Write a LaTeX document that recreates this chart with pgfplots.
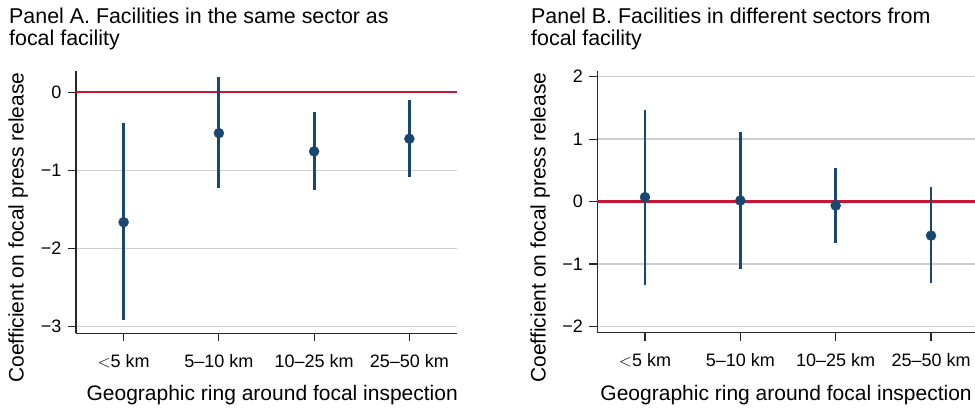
\documentclass[border=0pt]{standalone}
\usepackage{pgfplots}
\pgfplotsset{compat=1.18}
\usepackage{pgfplotstable}
\usepackage{fontspec}
\setmainfont{Liberation Sans}
\definecolor{navy}{RGB}{26,71,111}
\definecolor{zred}{RGB}{200,22,52}
\definecolor{gridc}{RGB}{205,205,205}

\pgfplotstableread{
x y lo hi
1 -1.667 -2.92 -0.40
2 -0.526 -1.235 0.19
3 -0.760 -1.256 -0.26
4 -0.598 -1.086 -0.10
}\panelA

\pgfplotstableread{
x y lo hi
1 0.070 -1.335 1.47
2 0.016 -1.078 1.106
3 -0.064 -0.657 0.54
4 -0.545 -1.308 0.23
}\panelB

\pgfplotsset{
  coefstyle/.style={
    scale only axis,
    xmin=0.5, xmax=4.5,
    axis x line=bottom, axis y line=left,
    axis line style={-, line width=1.1bp, black!85},
    tick align=outside,
    major tick length=8bp,
    tick style={line width=1.1bp, black!85},
    xtick={1,2,3,4},
    xticklabels={{$<$5 km},{5–10 km},{10–25 km},{25–50 km}},
    ymajorgrids,
    grid style={line width=1.2bp, gridc},
    ticklabel style={font=\fontsize{18bp}{20bp}\selectfont},
    xticklabel style={anchor=base, yshift=-26bp},
    yticklabel style={anchor=east, xshift=-3bp},
    label style={font=\fontsize{21bp}{24bp}\selectfont},
    xlabel={Geographic ring around focal inspection},
    ylabel={Coefficient on focal press release},
    clip=false,
  },
}

\begin{document}
\begin{tikzpicture}[x=1bp,y=1bp]
\useasboundingbox (0,0) rectangle (975,410);

\node[anchor=base west, inner sep=0, font=\fontsize{21.4bp}{24bp}\selectfont] at (9,387) {Panel A. Facilities in the same sector as};
\node[anchor=base west, inner sep=0, font=\fontsize{21.4bp}{24bp}\selectfont] at (9,365) {focal facility};
\node[anchor=base west, inner sep=0, font=\fontsize{21.4bp}{24bp}\selectfont] at (531,387) {Panel B. Facilities in different sectors from};
\node[anchor=base west, inner sep=0, font=\fontsize{21.4bp}{24bp}\selectfont] at (531,365) {focal facility};

\begin{axis}[coefstyle,
  at={(76bp,76.7bp)}, anchor=south west,
  width=381bp, height=262.3bp,
  ymin=-3.09, ymax=0.27,
  ytick={-3,-2,-1,0},
  yticklabels={−3,−2,−1,0},
  xlabel style={at={(axis description cs:0.515,0)}, anchor=base, yshift=-66.7bp},
  ylabel style={at={(axis description cs:-0.152,0.403)}, anchor=center},
]
\addplot[zred, line width=2.6bp, forget plot] coordinates {(0.5,0) (4.5,0)};
\addplot[navy, only marks, mark=*, mark size=5bp, mark options={fill=navy, draw=navy},
  error bars/.cd, y dir=both, y explicit, error mark=none,
  error bar style={line width=2.8bp, navy}]
  table[x=x, y=y, y error plus expr=\thisrow{hi}-\thisrow{y}, y error minus expr=\thisrow{y}-\thisrow{lo}] {\panelA};
\end{axis}

\begin{axis}[coefstyle,
  at={(597.3bp,77.3bp)}, anchor=south west,
  width=381.4bp, height=261.7bp,
  ymin=-2.10, ymax=2.09,
  ytick={-2,-1,0,1,2},
  yticklabels={−2,−1,0,1,2},
  xlabel style={at={(axis description cs:0.495,0)}, anchor=base, yshift=-67.3bp},
  ylabel style={at={(axis description cs:-0.150,0.402)}, anchor=center},
]
\addplot[zred, line width=2.6bp, forget plot] coordinates {(0.5,0) (4.5,0)};
\addplot[navy, only marks, mark=*, mark size=5bp, mark options={fill=navy, draw=navy},
  error bars/.cd, y dir=both, y explicit, error mark=none,
  error bar style={line width=2.8bp, navy}]
  table[x=x, y=y, y error plus expr=\thisrow{hi}-\thisrow{y}, y error minus expr=\thisrow{y}-\thisrow{lo}] {\panelB};
\end{axis}
\end{tikzpicture}
\end{document}
